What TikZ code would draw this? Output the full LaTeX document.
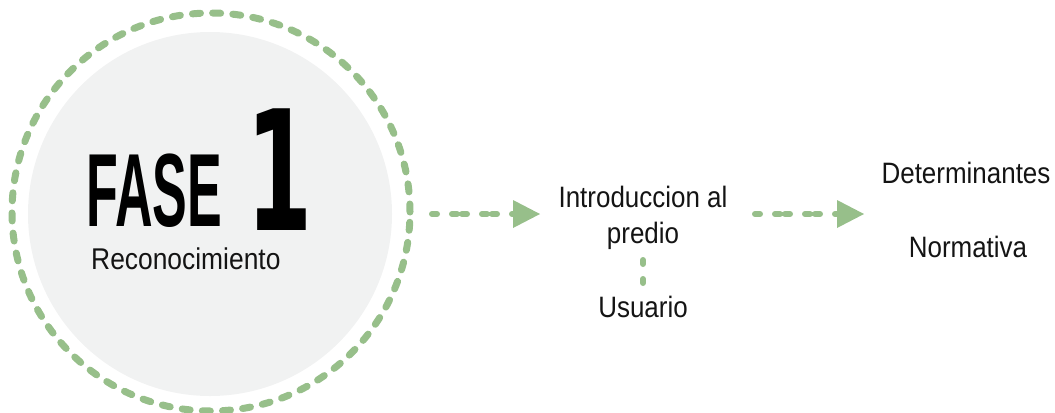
\documentclass[tikz,border=0pt]{standalone}
\usepackage{fontspec}
\setmainfont{Liberation Sans}
\newfontfamily\labfont[FakeStretch=0.88]{Liberation Sans}
\newfontfamily\fasefont[FakeStretch=0.5]{Liberation Sans}
\newfontfamily\onefont[FakeStretch=0.57]{DejaVu Sans}
\usetikzlibrary{arrows.meta}
\definecolor{dashgreen}{RGB}{151,191,138}
\definecolor{discgray}{RGB}{241,242,242}
\definecolor{inkblack}{RGB}{20,20,20}
\tikzset{
  ringline/.style={draw=dashgreen, line width=7bp, line cap=round, dash pattern=on 8bp off 12.2bp},
  arr/.style={draw=dashgreen, line width=6bp, line cap=round, dash pattern=on 5bp off 5bp on 5bp off 15bp, dash phase=10bp,
    -{Triangle[length=27bp,width=28bp,fill=dashgreen,line width=0bp]}},
  linkline/.style={draw=dashgreen, line width=6bp, line cap=round, dash pattern=on 4bp off 15bp},
  lab/.style={inner sep=0pt, text=inkblack, font=\labfont\fontsize{29.5bp}{36bp}\selectfont, align=center},
}
\begin{document}
\begin{tikzpicture}[x=1bp,y=-1bp]
\useasboundingbox (0,0) rectangle (1055,412);
\node[circle, fill=discgray, minimum size=364bp, inner sep=0pt] (disc) at (210,214) {};
\node[circle, ringline, minimum size=398bp, inner sep=0pt] (ring) at (211,212) {};
\node[anchor=base west, inner sep=0pt, text depth=0pt, text=black, font=\fasefont\bfseries\fontsize{104bp}{104bp}\selectfont] (fase) at (86,226) {FASE};
\node[anchor=base west, inner sep=0pt, text depth=0pt, text=black, font=\onefont\bfseries\fontsize{167bp}{167bp}\selectfont] (one) at (246,230) {1};
\node[lab, anchor=base west, font=\labfont\fontsize{30bp}{36bp}\selectfont] (reco) at (91,269) {Reconocimiento};
\node[lab, anchor=base] (intro) at (643,243) {Introduccion al\\predio};
\node[lab, anchor=base] (usu) at (643,317) {Usuario};
\node[lab, anchor=base] (det) at (966,183) {Determinantes};
\node[lab, anchor=base] (norm) at (968,257) {Normativa};
\coordinate (a1s) at (432,214);
\coordinate (a1e) at (540,214);
\coordinate (a2s) at (755,214);
\coordinate (a2e) at (864,214);
\coordinate (l1s) at (643,260);
\coordinate (l1e) at (643,283);
\draw[arr] (a1s) -- (a1e);
\draw[arr] (a2s) -- (a2e);
\draw[linkline] (l1s) -- (l1e);
\end{tikzpicture}
\end{document}
